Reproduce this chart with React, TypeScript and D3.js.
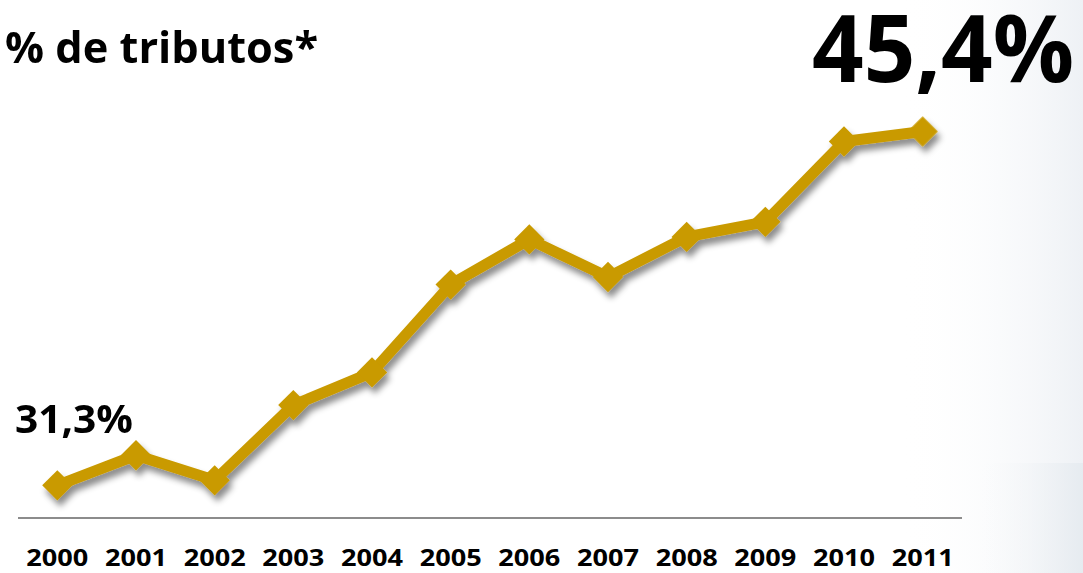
import { useEffect, useRef } from "react";
import * as d3 from "d3";

const W = 1083;
const H = 573;
const GOLD = "#C99A00";
const FONT = "'Open Sans', sans-serif";

const years = ["2000", "2001", "2002", "2003", "2004", "2005", "2006", "2007", "2008", "2009", "2010", "2011"];
const taxShare = [31.3, 32.5, 31.5, 34.5, 35.8, 39.3, 41.1, 39.6, 41.2, 41.8, 45.0, 45.4];
const firstLabel = "31,3%";
const lastLabel = "45,4%";
const title = "% de tributos*";

export default function App() {
  const svgRef = useRef<SVGSVGElement>(null);

  useEffect(() => {
    const svg = d3.select(svgRef.current);
    if (!svg.node()) return;
    svg.selectAll("*").remove();

    const defs = svg.append("defs");
    const shadow = defs.append("filter").attr("id", "shadow").attr("x", "-20%").attr("y", "-20%").attr("width", "140%").attr("height", "160%");
    shadow.append("feDropShadow").attr("dx", 3).attr("dy", 6).attr("stdDeviation", 3).attr("flood-color", "#000").attr("flood-opacity", 0.45);

    const g1 = defs.append("linearGradient").attr("id", "bgR").attr("x1", 0).attr("x2", 1);
    g1.append("stop").attr("offset", 0).attr("stop-color", "#fff").attr("stop-opacity", 0);
    g1.append("stop").attr("offset", 1).attr("stop-color", "#eef1f5");
    const g2 = defs.append("linearGradient").attr("id", "bgB").attr("x1", 0).attr("x2", 1);
    g2.append("stop").attr("offset", 0).attr("stop-color", "#fff").attr("stop-opacity", 0);
    g2.append("stop").attr("offset", 1).attr("stop-color", "#e6ebf0");

    svg.append("rect").attr("width", W).attr("height", H).attr("fill", "#fff");
    svg.append("rect").attr("x", 900).attr("y", 0).attr("width", W - 900).attr("height", H).attr("fill", "url(#bgR)");
    svg.append("rect").attr("x", 960).attr("y", 463).attr("width", W - 960).attr("height", H - 463).attr("fill", "url(#bgB)");

    const x = d3.scaleBand().domain(years).range([18, 962]);
    const y = d3.scaleLinear().domain([30, 50]).range([518, 16]);
    const cx = (d: string) => (x(d) ?? 0) + x.bandwidth() / 2;

    // baseline
    svg.append("line").attr("x1", 18).attr("x2", 962).attr("y1", y(30)).attr("y2", y(30))
      .attr("stroke", "#8c8c8c").attr("stroke-width", 2);

    // year labels
    svg.selectAll(".yr").data(years).enter().append("text")
      .attr("x", (d) => cx(d) - 31).attr("y", 566)
      .attr("font-family", FONT).attr("font-weight", 700).attr("font-size", 24)
      .attr("textLength", 62).attr("lengthAdjust", "spacingAndGlyphs")
      .attr("fill", "#000")
      .text((d) => d);

    const pts = years.map((d, i) => [cx(d), y(taxShare[i])] as [number, number]);
    const gLine = svg.append("g").attr("filter", "url(#shadow)");
    gLine.append("path")
      .attr("d", d3.line()(pts))
      .attr("fill", "none").attr("stroke", GOLD).attr("stroke-width", 11)
      .attr("stroke-linejoin", "round");
    const sym = d3.symbol().type(d3.symbolSquare).size(460);
    gLine.selectAll(".mk").data(pts).enter().append("path")
      .attr("d", sym()!)
      .attr("transform", (p) => `translate(${p[0]},${p[1]}) rotate(45)`)
      .attr("fill", GOLD);

    svg.append("text").attr("x", 5).attr("y", 63)
      .attr("font-family", FONT).attr("font-weight", 700).attr("font-size", 43)
      .attr("textLength", 313).attr("lengthAdjust", "spacingAndGlyphs")
      .text(title);

    svg.append("text").attr("x", 15).attr("y", 433)
      .attr("font-family", FONT).attr("font-weight", 700).attr("font-size", 40)
      .attr("textLength", 118).attr("lengthAdjust", "spacingAndGlyphs")
      .text(firstLabel);

    svg.append("text").attr("x", 812).attr("y", 82)
      .attr("font-family", FONT).attr("font-weight", 700).attr("font-size", 94)
      .attr("textLength", 262).attr("lengthAdjust", "spacingAndGlyphs")
      .text(lastLabel);
  }, []);

  return (
    <div style={{ position: "fixed", left: 0, top: 0, width: W, height: H }}>
      <svg ref={svgRef} width={W} height={H} style={{ display: "block" }} />
    </div>
  );
}
